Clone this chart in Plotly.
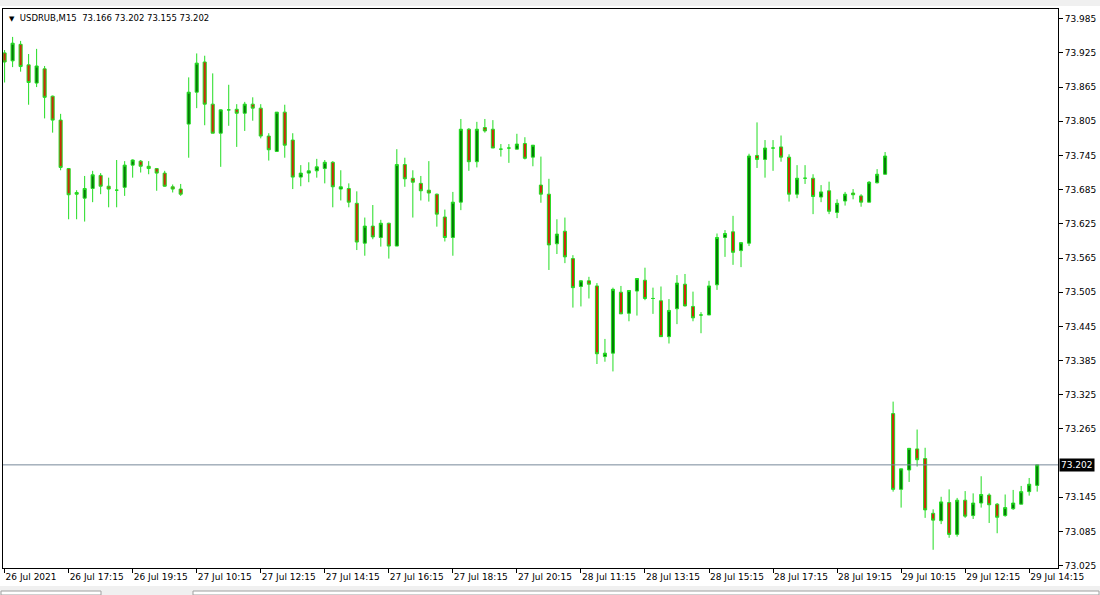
import plotly.graph_objects as go

# ---- data (USDRUB, M15) ----
open_ = [73.925, 73.911, 73.940, 73.904, 73.872, 73.897, 73.849, 73.807, 73.722, 73.680,
         73.670, 73.687, 73.710, 73.691, 73.684, 73.689, 73.728, 73.735, 73.726, 73.722,
         73.714, 73.690, 73.686, 73.800, 73.856, 73.909, 73.835, 73.784, 73.825, 73.826,
         73.819, 73.835, 73.828, 73.779, 73.752, 73.821, 73.772, 73.707, 73.714, 73.718,
         73.722, 73.733, 73.686, 73.687, 73.661, 73.591, 73.621, 73.601, 73.626, 73.586,
         73.729, 73.705, 73.696, 73.684, 73.677, 73.637, 73.601, 73.663, 73.791, 73.734,
         73.794, 73.791, 73.756, 73.758, 73.756, 73.766, 73.742, 73.693, 73.677, 73.590,
         73.612, 73.564, 73.515, 73.525, 73.516, 73.392, 73.398, 73.505, 73.468, 73.507,
         73.526, 73.494, 73.490, 73.427, 73.476, 73.519, 73.480, 73.465, 73.465, 73.518,
         73.601, 73.611, 73.578, 73.591, 73.745, 73.738, 73.758, 73.760, 73.742, 73.677,
         73.705, 73.705, 73.672, 73.683, 73.645, 73.665, 73.679, 73.674, 73.663, 73.697,
         73.712, 73.292, 73.159, 73.193, 73.230, 73.213, 73.117, 73.104, 73.136, 73.080,
         73.140, 73.113, 73.135, 73.149, 73.133, 73.113, 73.125, 73.133, 73.155, 73.166]
high = [73.930, 73.953, 73.946, 73.923, 73.932, 73.902, 73.850, 73.818, 73.723, 73.684,
        73.709, 73.718, 73.714, 73.706, 73.737, 73.735, 73.738, 73.737, 73.735, 73.723,
        73.718, 73.694, 73.695, 73.882, 73.924, 73.920, 73.889, 73.826, 73.869, 73.835,
        73.839, 73.847, 73.835, 73.784, 73.821, 73.834, 73.784, 73.728, 73.733, 73.739,
        73.737, 73.735, 73.719, 73.696, 73.682, 73.636, 73.658, 73.632, 73.627, 73.756,
        73.741, 73.719, 73.709, 73.735, 73.678, 73.650, 73.681, 73.809, 73.793, 73.804,
        73.809, 73.807, 73.765, 73.765, 73.783, 73.777, 73.763, 73.743, 73.704, 73.633,
        73.636, 73.570, 73.526, 73.532, 73.521, 73.423, 73.513, 73.516, 73.508, 73.529,
        73.548, 73.513, 73.515, 73.493, 73.535, 73.537, 73.506, 73.470, 73.525, 73.608,
        73.614, 73.639, 73.592, 73.748, 73.803, 73.772, 73.772, 73.780, 73.747, 73.728,
        73.728, 73.712, 73.693, 73.699, 73.668, 73.681, 73.686, 73.677, 73.700, 73.721,
        73.751, 73.313, 73.195, 73.231, 73.264, 73.232, 73.124, 73.146, 73.159, 73.144,
        73.156, 73.152, 73.182, 73.152, 73.135, 73.150, 73.158, 73.165, 73.179, 73.202]
low = [73.873, 73.900, 73.892, 73.834, 73.865, 73.810, 73.785, 73.719, 73.633, 73.633,
       73.629, 73.663, 73.677, 73.654, 73.654, 73.674, 73.706, 73.715, 73.712, 73.683,
       73.690, 73.680, 73.674, 73.741, 73.828, 73.798, 73.784, 73.725, 73.797, 73.760,
       73.788, 73.806, 73.775, 73.736, 73.751, 73.741, 73.686, 73.691, 73.698, 73.706,
       73.696, 73.654, 73.666, 73.654, 73.579, 73.569, 73.598, 73.585, 73.564, 73.586,
       73.690, 73.636, 73.666, 73.664, 73.620, 73.594, 73.569, 73.649, 73.718, 73.724,
       73.785, 73.758, 73.743, 73.732, 73.756, 73.738, 73.726, 73.662, 73.544, 73.572,
       73.556, 73.478, 73.480, 73.494, 73.379, 73.383, 73.366, 73.467, 73.454, 73.464,
       73.491, 73.467, 73.427, 73.415, 73.449, 73.480, 73.454, 73.433, 73.465, 73.509,
       73.567, 73.553, 73.549, 73.586, 73.723, 73.706, 73.718, 73.734, 73.664, 73.670,
       73.695, 73.642, 73.663, 73.642, 73.635, 73.657, 73.668, 73.655, 73.663, 73.696,
       73.712, 73.155, 73.127, 73.172, 73.199, 73.109, 73.053, 73.098, 73.074, 73.076,
       73.109, 73.107, 73.127, 73.100, 73.082, 73.111, 73.123, 73.133, 73.148, 73.155]
close = [73.909, 73.942, 73.901, 73.873, 73.902, 73.847, 73.807, 73.724, 73.676, 73.677,
         73.687, 73.711, 73.691, 73.686, 73.684, 73.728, 73.737, 73.726, 73.722, 73.714,
         73.691, 73.686, 73.677, 73.856, 73.907, 73.835, 73.784, 73.825, 73.825, 73.819,
         73.835, 73.828, 73.779, 73.755, 73.821, 73.763, 73.707, 73.714, 73.718, 73.725,
         73.733, 73.690, 73.690, 73.663, 73.593, 73.621, 73.602, 73.626, 73.586, 73.729,
         73.704, 73.698, 73.683, 73.679, 73.642, 73.601, 73.663, 73.791, 73.734, 73.791,
         73.788, 73.758, 73.756, 73.758, 73.765, 73.740, 73.763, 73.677, 73.588, 73.607,
         73.567, 73.513, 73.525, 73.519, 73.397, 73.398, 73.510, 73.467, 73.508, 73.529,
         73.494, 73.494, 73.427, 73.473, 73.521, 73.481, 73.460, 73.465, 73.516, 73.601,
         73.608, 73.575, 73.592, 73.744, 73.738, 73.758, 73.758, 73.742, 73.677, 73.705,
         73.705, 73.673, 73.681, 73.647, 73.661, 73.677, 73.676, 73.663, 73.698, 73.712,
         73.744, 73.159, 73.195, 73.231, 73.211, 73.123, 73.105, 73.137, 73.080, 73.140,
         73.112, 73.135, 73.150, 73.132, 73.110, 73.127, 73.135, 73.155, 73.168, 73.202]

tick_bars = [0, 8, 16, 24, 32, 40, 48, 56, 64, 72, 80, 88, 96, 104, 112, 120, 128]
tick_labels = ["26 Jul 2021", "26 Jul 17:15", "26 Jul 19:15", "27 Jul 10:15", "27 Jul 12:15",
               "27 Jul 14:15", "27 Jul 16:15", "27 Jul 18:15", "27 Jul 20:15", "28 Jul 11:15",
               "28 Jul 13:15", "28 Jul 15:15", "28 Jul 17:15", "28 Jul 19:15", "29 Jul 10:15",
               "29 Jul 12:15", "29 Jul 14:15"]
price_ticks = [73.025, 73.085, 73.145, 73.265, 73.325, 73.385, 73.445, 73.505,
               73.565, 73.625, 73.685, 73.745, 73.805, 73.865, 73.925, 73.985]
last_price = 73.202
symbol = "USDRUB,M15"

bars = list(range(len(open_)))

FONT = "DejaVu Sans"
W, H = 1100, 595
ML, MR, MT, MB = 3, 42, 9, 27
PW, PH = W - ML - MR, H - MT - MB


def px_x(px):
    return (px - ML) / PW


def px_y(py):
    return (H - MB - py) / PH


fig = go.Figure(go.Candlestick(
    x=bars, open=open_, high=high, low=low, close=close,
    increasing=dict(line=dict(color="#22dd22", width=1), fillcolor="#087808"),
    decreasing=dict(line=dict(color="#22dd22", width=1), fillcolor="#cc2a0a"),
    whiskerwidth=0, showlegend=False,
))

fig.add_shape(type="line", xref="paper", x0=0, x1=1, yref="y", y0=last_price, y1=last_price,
              line=dict(color="#778899", width=1))

# window decorations (top strip and bottom tab bar)
fig.add_shape(type="rect", xref="paper", yref="paper", x0=px_x(0), x1=px_x(1100),
              y0=px_y(6), y1=px_y(0), fillcolor="#f0f0f0", line=dict(width=0), layer="below")
fig.add_shape(type="rect", xref="paper", yref="paper", x0=px_x(0), x1=px_x(1100),
              y0=px_y(595), y1=px_y(586), fillcolor="#f0f0f0", line=dict(width=0), layer="below")
fig.add_shape(type="rect", xref="paper", yref="paper", x0=px_x(1), x1=px_x(101),
              y0=px_y(595), y1=px_y(591), fillcolor="#ffffff", line=dict(color="#a0a0a0", width=1))
fig.add_shape(type="rect", xref="paper", yref="paper", x0=px_x(193), x1=px_x(1099),
              y0=px_y(595), y1=px_y(591), fillcolor="#ffffff", line=dict(color="#a0a0a0", width=1))

fig.add_annotation(xref="paper", yref="paper", x=0, y=1, xanchor="left", yanchor="top",
                   xshift=4, yshift=-2, showarrow=False,
                   text="<span style='font-size:7px'>▼</span>\u00a0\u00a0" + symbol + "\u00a0\u00a0"
                        + " ".join(f"{v:.3f}" for v in (open_[-1], high[-1], low[-1], close[-1])),
                   font=dict(family=FONT, size=8.5, color="black"))

fig.add_annotation(xref="paper", yref="y", x=1, y=last_price, xanchor="left", yanchor="middle",
                   xshift=1, showarrow=False, text=f"{last_price:.3f}", bgcolor="black",
                   borderpad=1, font=dict(family=FONT, size=9, color="white"))

fig.update_layout(
    width=W, height=H, margin=dict(l=ML, r=MR, t=MT, b=MB),
    paper_bgcolor="white", plot_bgcolor="white",
    boxgap=0.45,
    font=dict(family=FONT, size=9, color="black"),
    xaxis=dict(range=[-0.2, 131.6], tickvals=tick_bars, ticktext=tick_labels,
               ticks="outside", ticklen=4, tickcolor="black", ticklabelposition="outside right",
               showline=True, linecolor="black", linewidth=1, mirror=True,
               showgrid=False, zeroline=False, rangeslider=dict(visible=False),
               tickfont=dict(family=FONT, size=9, color="black")),
    yaxis=dict(range=[73.021, 74.002], side="right", tickvals=price_ticks,
               ticktext=[f"{v:.3f}" for v in price_ticks],
               ticks="outside", ticklen=4, tickcolor="black",
               showline=True, linecolor="black", linewidth=1, mirror=True,
               showgrid=False, zeroline=False,
               tickfont=dict(family=FONT, size=9, color="black")),
)

fig.write_html("out.html", config={"displayModeBar": False},
               post_script="document.body.style.margin='0';document.body.style.overflow='hidden';")
